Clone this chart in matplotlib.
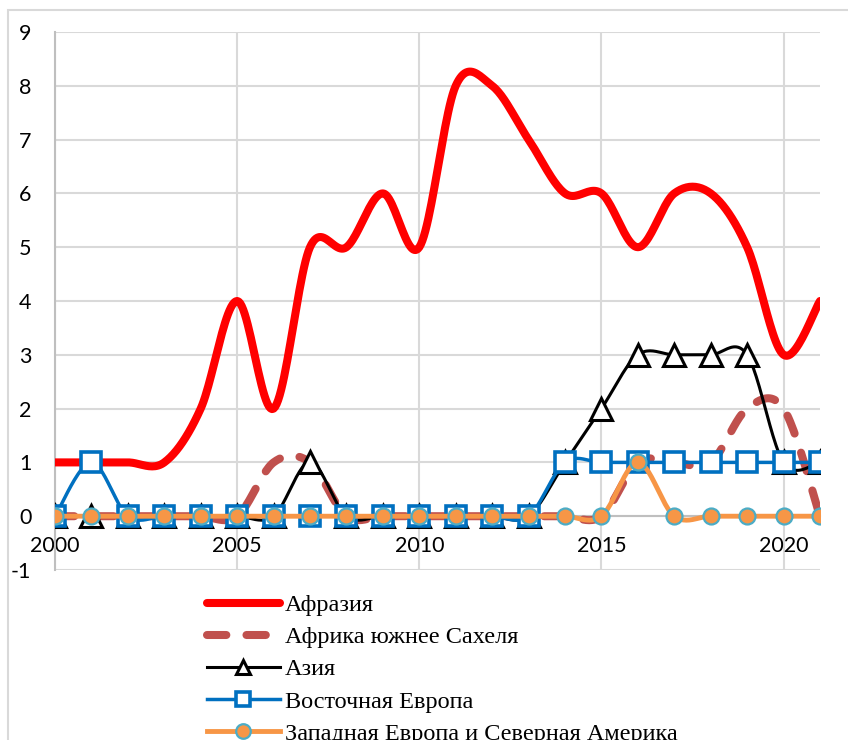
import numpy as np
import matplotlib
matplotlib.use("Agg")
import matplotlib.pyplot as plt
from matplotlib.patches import Rectangle

plt.rcParams["axes.unicode_minus"] = False

years = list(range(2000, 2022))

afrasia = [1, 1, 1, 1, 2, 4, 2, 5, 5, 6, 5, 8, 8, 7, 6, 6, 5, 6, 6, 5, 3, 4]
africa_sahel = [0, 0, 0, 0, 0, 0, 1, 1, 0, 0, 0, 0, 0, 0, 0, 0, 1, 1, 1, 2, 2, 0]
asia = [0, 0, 0, 0, 0, 0, 0, 1, 0, 0, 0, 0, 0, 0, 1, 2, 3, 3, 3, 3, 1, 1]
east_europe = [0, 1, 0, 0, 0, 0, 0, 0, 0, 0, 0, 0, 0, 0, 1, 1, 1, 1, 1, 1, 1, 1]
west_europe_na = [0, 0, 0, 0, 0, 0, 0, 0, 0, 0, 0, 0, 0, 0, 0, 0, 1, 0, 0, 0, 0, 0]

labels = ["Афразия", "Африка южнее Сахеля", "Азия",
          "Восточная Европа", "Западная Европа и Северная Америка"]


def smooth(x, y, n=24):
    # Excel-like smoothed line (Catmull-Rom through the points)
    x = np.asarray(x, float)
    y = np.asarray(y, float)
    px = np.concatenate([[x[0]], x, [x[-1]]])
    py = np.concatenate([[y[0]], y, [y[-1]]])
    xs, ys = [], []
    t = np.linspace(0, 1, n, endpoint=False)
    for i in range(1, len(px) - 2):
        for p, out in ((px, xs), (py, ys)):
            p0, p1, p2, p3 = p[i - 1], p[i], p[i + 1], p[i + 2]
            m1 = (p2 - p0) / 2
            m2 = (p3 - p1) / 2
            h = ((2 * t**3 - 3 * t**2 + 1) * p1 + (t**3 - 2 * t**2 + t) * m1
                 + (-2 * t**3 + 3 * t**2) * p2 + (t**3 - t**2) * m2)
            out.extend(h)
    xs.append(x[-1])
    ys.append(y[-1])
    return np.array(xs), np.array(ys)


fig = plt.figure(figsize=(8.48, 7.40), dpi=100)
ax = fig.add_axes([55 / 848, 1 - 570 / 740, 765 / 848, 538 / 740])

grid_c = "#D9D9D9"

ax.plot(*smooth(years, afrasia), color="#FF0000", lw=5.8,
        solid_capstyle="round", zorder=3)
ax.plot(*smooth(years, africa_sahel), color="#C0504D", lw=5.8,
        dashes=(2.4, 2.5), dash_capstyle="round", zorder=4)
ax.plot(*smooth(years, asia), color="black", lw=2.2, zorder=5)
ax.plot(years, asia, ls="none", marker="^", ms=15.5, mfc="white", mec="black",
        mew=2.2, zorder=5)
ax.plot(*smooth(years, east_europe), color="#0070C0", lw=2.5, zorder=6)
ax.plot(years, east_europe, ls="none", marker="s", ms=14.5, mfc="white",
        mec="#0070C0", mew=2.6, zorder=6)
ax.plot(*smooth(years, west_europe_na), color="#F79646", lw=3.5, zorder=7)
ax.plot(years, west_europe_na, ls="none", marker="o", ms=11.5, mfc="#F79646",
        mec="#4BACC6", mew=1.6, zorder=7)

ax.set_xlim(2000, 2021)
ax.set_ylim(-1, 9)
ax.set_xticks(range(2000, 2021, 5))
ax.set_yticks(range(-1, 10))
ax.grid(True, color=grid_c, lw=1.5)
ax.set_axisbelow(True)

for s in ("top", "right"):
    ax.spines[s].set_visible(False)
ax.spines["bottom"].set_position(("data", 0))
ax.spines["bottom"].set_color("#BFBFBF")
ax.spines["bottom"].set_linewidth(1.5)
ax.spines["left"].set_color("#BFBFBF")
ax.spines["left"].set_linewidth(1.5)
ax.tick_params(length=0, labelsize=15.5)
ax.tick_params(axis="x", pad=14)
ax.tick_params(axis="y", pad=17)
for lab in ax.get_xticklabels() + ax.get_yticklabels():
    lab.set_fontfamily("Lato")

# legend proxies
proxies = [
    plt.Line2D([], [], color="#FF0000", lw=5.8, solid_capstyle="round"),
    plt.Line2D([], [], color="#C0504D", lw=5.8, dashes=(2.4, 2.5),
               dash_capstyle="round"),
    plt.Line2D([], [], color="black", lw=2.2, marker="^", ms=10, mfc="white",
               mec="black", mew=2.2),
    plt.Line2D([], [], color="#0070C0", lw=2.5, marker="s", ms=10, mfc="white",
               mec="#0070C0", mew=2.6),
    plt.Line2D([], [], color="#F79646", lw=3.5, marker="o", ms=10.5,
               mfc="#F79646", mec="#4BACC6", mew=1.6),
]
fig.legend(proxies, labels, loc="upper left",
           bbox_to_anchor=(207 / 848, 1 - 594 / 740), frameon=False,
           prop={"family": "Liberation Serif", "size": 17.5},
           handlelength=3.0, handletextpad=0.2, labelspacing=0.42,
           borderpad=0, borderaxespad=0)

fig.patches.append(Rectangle((8 / 848, -0.1), 1.0, 1.1 - 10 / 740,
                             transform=fig.transFigure, fill=False,
                             edgecolor=grid_c, lw=1.5))

fig.savefig("out.png", dpi=100)
